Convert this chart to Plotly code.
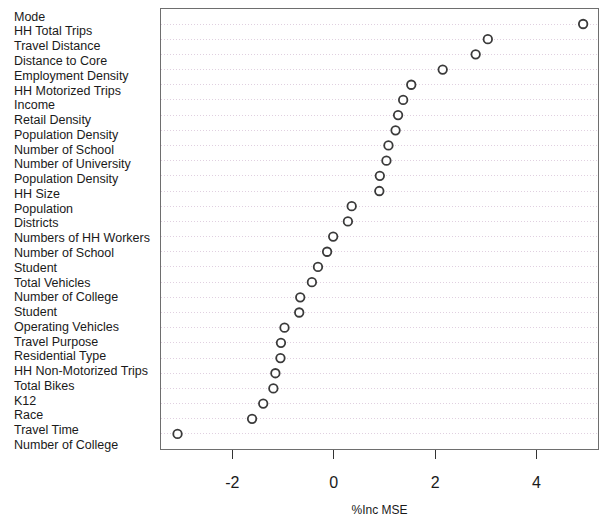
import plotly.graph_objects as go

# variable labels (as printed on the left, top to bottom)
labels = [
    "Mode", "HH Total Trips", "Travel Distance", "Distance to Core",
    "Employment Density", "HH Motorized Trips", "Income", "Retail Density",
    "Population Density", "Number of School", "Number of University",
    "Population Density", "HH Size", "Population", "Districts",
    "Numbers of HH Workers", "Number of School", "Student", "Total Vehicles",
    "Number of College", "Student", "Operating Vehicles", "Travel Purpose",
    "Residential Type", "HH Non-Motorized Trips", "Total Bikes", "K12",
    "Race", "Travel Time", "Number of College",
]

# %IncMSE values of the plotted points (top to bottom)
inc_mse = [
    4.92, 3.04, 2.80, 2.15, 1.53, 1.37, 1.27, 1.22, 1.08, 1.04,
    0.91, 0.90, 0.355, 0.28, -0.01, -0.13, -0.31, -0.43, -0.66, -0.68,
    -0.97, -1.04, -1.05, -1.15, -1.19, -1.39, -1.61, -3.08,
]
rows = list(range(1, len(inc_mse) + 1))
label_rows = list(range(1, len(labels) + 1))

x_ticks = [-2, 0, 2, 4]

fig = go.Figure()
fig.add_trace(go.Scatter(
    x=inc_mse, y=rows, mode="markers",
    marker=dict(symbol="circle", size=8.5, color="white",
                line=dict(color="#3a3a3a", width=1.8)),
    showlegend=False, hoverinfo="x",
))

fig.update_layout(
    width=599, height=518,
    margin=dict(l=161, r=1, t=9, b=69),
    paper_bgcolor="white", plot_bgcolor="white",
    font=dict(family="Liberation Sans, Arial, sans-serif", color="#1a1a1a"),
    xaxis=dict(
        range=[-3.406, 5.213], tickvals=x_ticks, ticktext=[str(v) for v in x_ticks],
        ticks="outside", ticklen=9, tickcolor="#333", tickwidth=1.3,
        tickfont=dict(size=16, color="#1a1a1a"), ticklabelstandoff=10,
        showgrid=False, zeroline=False,
        showline=True, mirror=True, linecolor="#6e6e6e", linewidth=1.3,
        title=dict(text="%Inc MSE", font=dict(size=12, color="#1a1a1a"), standoff=15),
    ),
    yaxis=dict(
        range=[28.99, 0.012], tickvals=rows, showticklabels=False, ticks="",
        showgrid=True, gridcolor="rgb(224,208,224)", gridwidth=1, griddash="1px,2px",
        zeroline=False, showline=True, mirror=True, linecolor="#6e6e6e", linewidth=1.3,
    ),
    yaxis2=dict(
        range=[30.27, 0.479], overlaying="y", visible=False,
    ),
)

for r, lab in zip(label_rows, labels):
    fig.add_annotation(
        x=(12 - 161) / 437, xref="paper", y=r, yref="y2",
        text=lab, showarrow=False, xanchor="left", yanchor="middle",
        font=dict(size=12.5, color="#1a1a1a"),
    )

fig.write_html("out.html")
